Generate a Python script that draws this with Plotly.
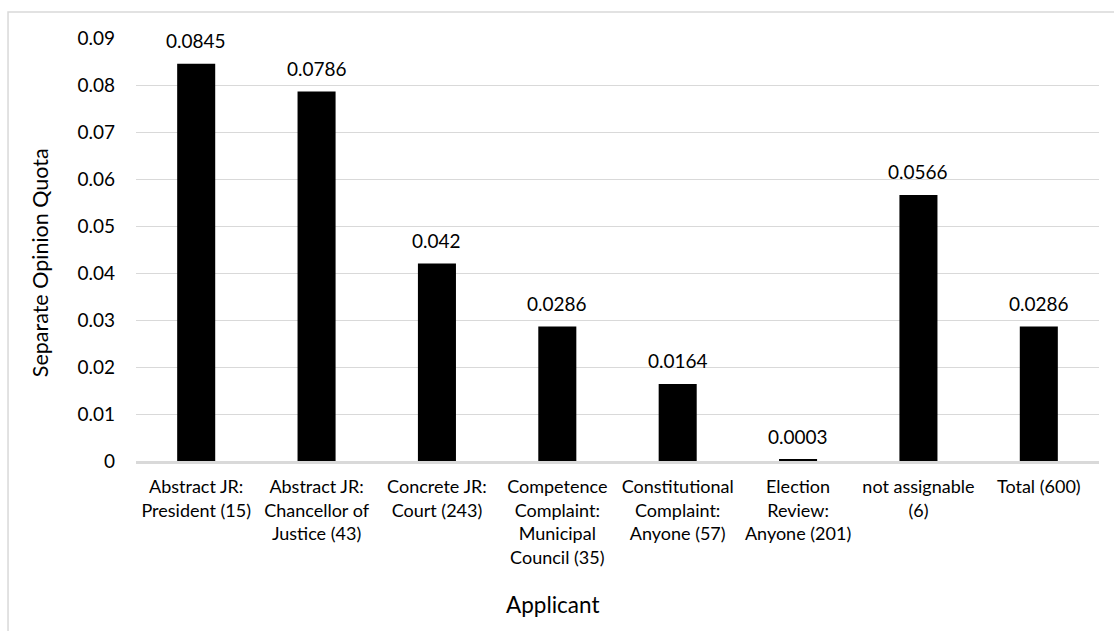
import plotly.graph_objects as go

categories = [
    "Abstract JR:<br>President (15)",
    "Abstract JR:<br>Chancellor of<br>Justice (43)",
    "Concrete JR:<br>Court (243)",
    "Competence<br>Complaint:<br>Municipal<br>Council (35)",
    "Constitutional<br>Complaint:<br>Anyone (57)",
    "Election<br>Review:<br>Anyone (201)",
    "not assignable<br>(6)",
    "Total (600)",
]
values = [0.0845, 0.0786, 0.042, 0.0286, 0.0164, 0.0003, 0.0566, 0.0286]
value_labels = ["0.0845", "0.0786", "0.042", "0.0286", "0.0164", "0.0003", "0.0566", "0.0286"]

FONT = "Lato"
GRID = "#d9d9d9"

fig = go.Figure()
fig.add_trace(go.Bar(
    x=categories, y=values,
    marker=dict(color="#000000", line=dict(width=0)),
    showlegend=False, hoverinfo="skip",
))

for c, v, t in zip(categories, values, value_labels):
    fig.add_annotation(x=c, y=v, text=t, showarrow=False, yshift=23,
                       xanchor="center", yanchor="middle",
                       font=dict(family=FONT, size=19, color="#000000"))

fig.add_annotation(xref="paper", yref="paper", x=-0.0997, y=0.470,
                   text="Separate Opinion Quota", textangle=-90, showarrow=False,
                   xanchor="center", yanchor="middle",
                   font=dict(family=FONT, size=21.5, color="#000000"))
fig.add_annotation(xref="paper", yref="paper", x=0.433, y=-0.340,
                   text="Applicant", showarrow=False,
                   xanchor="center", yanchor="middle",
                   font=dict(family=FONT, size=22.5, color="#000000"))

fig.add_shape(type="rect", xref="paper", yref="paper",
              x0=-0.1329, x1=1.05, y0=-0.7, y1=1.0615,
              line=dict(color=GRID, width=1.5), fillcolor="rgba(0,0,0,0)", layer="below")

fig.update_layout(
    width=1114, height=631, autosize=False,
    margin=dict(l=136, r=15, t=38, b=170),
    paper_bgcolor="white", plot_bgcolor="white",
    bargap=0.684,
    font=dict(family=FONT, size=19, color="#000000"),
    xaxis=dict(
        type="category", showgrid=False, zeroline=False,
        showline=True, linecolor=GRID, linewidth=2.5,
        ticks="", tickfont=dict(family=FONT, size=18, color="#000000"),
        ticklabelstandoff=8, tickangle=0,
    ),
    yaxis=dict(
        range=[0, 0.09], dtick=0.01, tick0=0,
        showgrid=True, gridcolor=GRID, gridwidth=1.3,
        zeroline=False, showline=False, ticks="",
        tickfont=dict(family=FONT, size=19, color="#000000"),
        ticklabelstandoff=20,
    ),
)

fig.write_html("out.html")
